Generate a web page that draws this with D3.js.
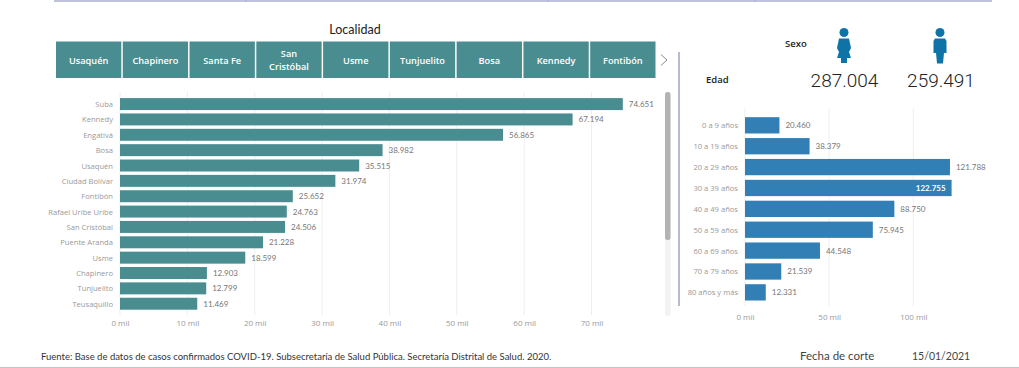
<!DOCTYPE html>
<html>
<head>
<meta charset="utf-8">
<script src="https://cdn.jsdelivr.net/npm/d3@7"></script>
<style>
  html, body { margin: 0; padding: 0; background: #fff; overflow: hidden; }
  svg { display: block; }
  .domain { display: none; }
</style>
</head>
<body>
<svg id="chart" width="1019" height="368"></svg>
<script>
// slicer tiles
const tiles = ["Usaquén", "Chapinero", "Santa Fe", "San|Cristóbal", "Usme", "Tunjuelito", "Bosa", "Kennedy", "Fontibón"];

// cases by locality
const localidades = ["Suba", "Kennedy", "Engativá", "Bosa", "Usaquén", "Ciudad Bolívar", "Fontibón", "Rafael Uribe Uribe", "San Cristóbal", "Puente Aranda", "Usme", "Chapinero", "Tunjuelito", "Teusaquillo"];
const casosLocalidad = [74651, 67194, 56865, 38982, 35515, 31974, 25652, 24763, 24506, 21228, 18599, 12903, 12799, 11469];
const ticksLocalidad = [0, 10000, 20000, 30000, 40000, 50000, 60000, 70000];

// cases by age group
const edades = ["0 a 9 años", "10 a 19 años", "20 a 29 años", "30 a 39 años", "40 a 49 años", "50 a 59 años", "60 a 69 años", "70 a 79 años", "80 años y más"];
const casosEdad = [20460, 38379, 121788, 122755, 88750, 75945, 44548, 21539, 12331];
const ticksEdad = [0, 50000, 100000];

// totals by sex
const totalMujeres = 287004;
const totalHombres = 259491;

const sans = "'Open Sans', 'Noto Sans', sans-serif";
const din = "'Lato', 'Roboto', sans-serif";
const teal = "#4a8d91";
const blue = "#317fb5";

const svg = d3.select("#chart");
const es = d3.formatLocale({ decimal: ",", thousands: ".", grouping: [3], currency: ["$", ""] });
const fmt = es.format(",d");
const milFmt = d => (d / 1000) + " mil";

// frame lines left over from the report page
svg.append("line").attr("x1", 54).attr("x2", 992).attr("y1", 1).attr("y2", 1)
  .attr("stroke", "#a9aed0").attr("stroke-width", 1.5);
[246, 548, 755].forEach(x => {
  svg.append("line").attr("x1", x).attr("x2", x).attr("y1", 0).attr("y2", 2)
    .attr("stroke", "#a9aed0");
});
svg.append("line").attr("x1", 0).attr("x2", 1019).attr("y1", 367.5).attr("y2", 367.5)
  .attr("stroke", "#c4c4c4");
svg.append("line").attr("x1", 679).attr("x2", 679).attr("y1", 52).attr("y2", 306)
  .attr("stroke", "#9ea3c4").attr("stroke-width", 1.5);

// slicer
svg.append("text").attr("x", 355).attr("y", 34).attr("text-anchor", "middle")
  .style("font", "12.5px " + din).attr("fill", "#222").text("Localidad");

const tileScale = d3.scaleBand().domain(tiles).range([56, 655.5]).paddingInner(0.022);
const tile = svg.append("g").selectAll("g").data(tiles).join("g")
  .attr("transform", d => `translate(${tileScale(d)},41.5)`);
tile.append("rect").attr("width", tileScale.bandwidth()).attr("height", 36.5).attr("fill", teal);
tile.each(function (d) {
  const parts = d.split("|");
  d3.select(this).selectAll("text").data(parts).join("text")
    .attr("x", tileScale.bandwidth() / 2)
    .attr("y", (p, i) => 22 + (i - (parts.length - 1) / 2) * 13)
    .attr("text-anchor", "middle")
    .attr("fill", "#fff")
    .style("font", "600 9.2px " + sans)
    .text(p => p);
});
svg.append("path").attr("d", "M661,54.5L667,60L661,65.5").attr("fill", "none")
  .attr("stroke", "#8a8a8a");

// generic horizontal bar panel
function barPanel(opts) {
  const x = d3.scaleLinear().domain(opts.domain).range(opts.range);
  const y = d3.scaleBand().domain(opts.cats).range(opts.yRange).paddingInner(opts.pad).paddingOuter(opts.pad / 2);
  const g = svg.append("g");

  g.append("g").selectAll("line").data(opts.ticks).join("line")
    .attr("x1", d => x(d)).attr("x2", d => x(d))
    .attr("y1", opts.gridTop).attr("y2", opts.gridBottom)
    .attr("stroke", "#eeeeee");

  const axis = d3.axisBottom(x).tickValues(opts.ticks).tickFormat(milFmt).tickSize(0).tickPadding(0);
  g.append("g").attr("transform", `translate(0,${opts.axisY})`).call(axis)
    .call(a => a.selectAll("text").attr("fill", "#999").style("font", "8px " + sans));

  g.selectAll(".bar").data(opts.cats).join("rect").attr("class", "bar")
    .attr("x", x(0))
    .attr("y", d => y(d))
    .attr("width", (d, i) => x(opts.values[i]) - x(0))
    .attr("height", y.bandwidth())
    .attr("fill", opts.color);

  g.selectAll(".cat").data(opts.cats).join("text").attr("class", "cat")
    .attr("x", x(0) - 7)
    .attr("y", d => y(d) + y.bandwidth() / 2 + 3)
    .attr("text-anchor", "end")
    .attr("fill", "#999")
    .style("font", "7.6px " + sans)
    .text(d => d);

  g.selectAll(".val").data(opts.cats).join("text").attr("class", "val")
    .attr("x", (d, i) => opts.inside === i ? x(opts.values[i]) - 6 : x(opts.values[i]) + 6)
    .attr("y", d => y(d) + y.bandwidth() / 2 + 3)
    .attr("text-anchor", (d, i) => opts.inside === i ? "end" : "start")
    .attr("fill", (d, i) => opts.inside === i ? "#fff" : "#777")
    .style("font", (d, i) => (opts.inside === i ? "700 " : "") + "8px " + din)
    .text((d, i) => fmt(opts.values[i]));
}

barPanel({
  cats: localidades, values: casosLocalidad, ticks: ticksLocalidad,
  domain: [0, 70000], range: [120, 591.5],
  yRange: [96.4, 311.4], pad: 0.22, color: teal,
  gridTop: 92, gridBottom: 315, axisY: 320
});

barPanel({
  cats: edades, values: casosEdad, ticks: ticksEdad,
  domain: [0, 100000], range: [745, 913.3],
  yRange: [114.9, 302.8], pad: 0.22, color: blue, inside: 3,
  gridTop: 108, gridBottom: 306, axisY: 314
});

// scrollbar
svg.append("rect").attr("x", 665).attr("y", 92).attr("width", 5.5).attr("height", 224)
  .attr("rx", 2.5).attr("fill", "#f2f2f2");
svg.append("rect").attr("x", 665).attr("y", 92).attr("width", 5.5).attr("height", 148)
  .attr("rx", 2.5).attr("fill", "#b3b3b3");

// person icons
const iconBlue = "#0f73a8";
function woman(cx) {
  const g = svg.append("g").attr("transform", `translate(${cx},28)`).attr("fill", iconBlue);
  g.append("circle").attr("cx", 0).attr("cy", 4.5).attr("r", 4.5);
  g.append("path").attr("d", "M-5,10.5H5L7,20L5,24L7,30L3,30V35H-3V30L-7,30L-5,24L-7,20Z");
}
function man(cx) {
  const g = svg.append("g").attr("transform", `translate(${cx},28)`).attr("fill", iconBlue);
  g.append("circle").attr("cx", 0).attr("cy", 4.5).attr("r", 4.5);
  g.append("path").attr("d", "M-5,10.5H5L6.5,13V25H4L3,35.5H-3L-4,25H-6.5V13Z");
}
woman(844);
man(940);

svg.append("text").attr("x", 785).attr("y", 46.5).attr("fill", "#222")
  .style("font", "600 9.5px " + sans).text("Sexo");
svg.append("text").attr("x", 706).attr("y", 82.5).attr("fill", "#222")
  .style("font", "600 9.5px " + sans).text("Edad");
svg.append("text").attr("x", 844.5).attr("y", 87).attr("text-anchor", "middle").attr("fill", "#222")
  .style("font", "300 19px Roboto, sans-serif").text(fmt(totalMujeres));
svg.append("text").attr("x", 941).attr("y", 87).attr("text-anchor", "middle").attr("fill", "#222")
  .style("font", "300 19px Roboto, sans-serif").text(fmt(totalHombres));

// footer
svg.append("text").attr("x", 41).attr("y", 360).attr("fill", "#333")
  .style("font", "9.5px Lato, sans-serif")
  .text("Fuente: Base de datos de casos confirmados COVID-19. Subsecretaría de Salud Pública. Secretaría Distrital de Salud. 2020.");
svg.append("text").attr("x", 800).attr("y", 360).attr("fill", "#444")
  .style("font", "11.5px " + din).text("Fecha de corte");
svg.append("text").attr("x", 912).attr("y", 360).attr("fill", "#444")
  .style("font", "10.5px " + din).text("15/01/2021");
</script>
</body>
</html>
